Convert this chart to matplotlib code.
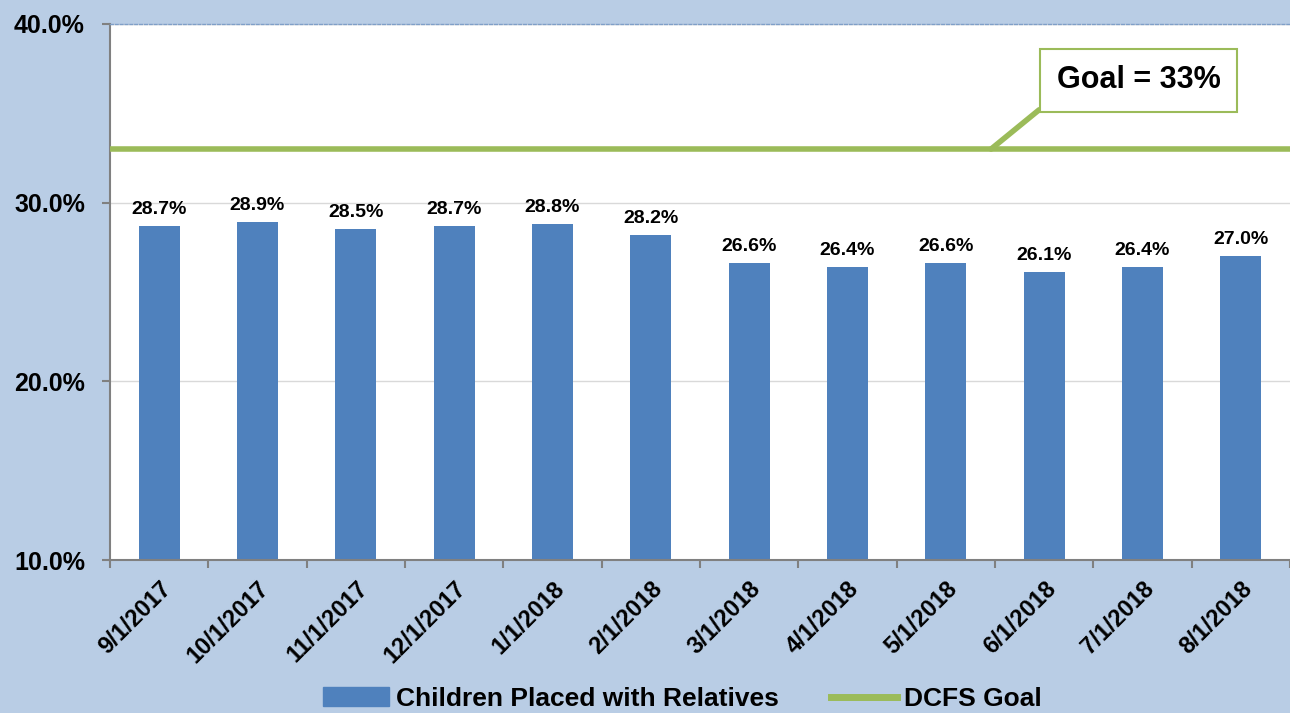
import matplotlib.pyplot as plt
from matplotlib.lines import Line2D
from matplotlib.patches import Patch

# data
dates = ["9/1/2017", "10/1/2017", "11/1/2017", "12/1/2017", "1/1/2018", "2/1/2018",
         "3/1/2018", "4/1/2018", "5/1/2018", "6/1/2018", "7/1/2018", "8/1/2018"]
placed = [28.7, 28.9, 28.5, 28.7, 28.8, 28.2, 26.6, 26.4, 26.6, 26.1, 26.4, 27.0]
goal = 33.0
y_ticks = [10, 20, 30, 40]

bg = "#B9CDE5"
blue = "#4F81BD"
green = "#9BBB59"

plt.rcParams['font.family'] = ['Liberation Sans', 'DejaVu Sans']

fig = plt.figure(figsize=(12.9, 7.13), dpi=100, facecolor=bg)
ax = fig.add_axes([110 / 1290, 1 - 560 / 713, 1 - 110 / 1290, (560 - 24) / 713])
ax.set_facecolor("white")

x = list(range(len(dates)))
ax.bar(x, placed, width=0.42, color=blue, zorder=2)
for xi, v in zip(x, placed):
    ax.text(xi, v + 0.45, f"{v:.1f}%", ha="center", va="bottom",
            fontsize=14, fontweight="bold", zorder=4)

ax.axhline(goal, color=green, lw=4, zorder=3)

ax.set_xlim(-0.5, len(dates) - 0.5)
ax.set_ylim(10, 40)
ax.set_yticks(y_ticks)
ax.set_yticklabels([f"{t:.1f}%" for t in y_ticks], fontsize=18, fontweight="bold")
ax.yaxis.grid(True, color="#D9D9D9", lw=1, zorder=0)
ax.set_xticks(x)
ax.set_xticklabels(dates, rotation=45, ha="right", rotation_mode="anchor",
                   fontsize=17, fontweight="bold")
ax.set_xticks([i - 0.5 for i in range(len(dates) + 1)], minor=True)
ax.tick_params(axis="x", which="major", length=0, pad=12)
ax.tick_params(axis="x", which="minor", length=6, color="#808080", width=1.5)
ax.tick_params(axis="y", length=6, color="#808080", width=1.5, pad=12)

for side in ["left", "bottom"]:
    ax.spines[side].set_color("#808080")
    ax.spines[side].set_linewidth(1.5)
ax.spines["right"].set_visible(False)
ax.spines["top"].set_color("#7F9FC8")
ax.spines["top"].set_linestyle((0, (2, 1.5)))
ax.spines["top"].set_linewidth(1)

# goal callout
ax.annotate("Goal = 33%", xy=(8.46, goal), xytext=(9.96, 36.84),
            fontsize=22, fontweight="bold", ha="center", va="center",
            bbox=dict(boxstyle="square,pad=0.55", fc="white", ec=green, lw=1.5),
            arrowprops=dict(arrowstyle="-", color=green, lw=4,
                            shrinkA=0, shrinkB=0, relpos=(0, 0)),
            zorder=5)

handles = [Patch(color=blue), Line2D([0], [0], color=green, lw=5)]
fig.legend(handles, ["Children Placed with Relatives", "DCFS Goal"],
           loc="center", bbox_to_anchor=(0.529, 0.02), ncol=2, frameon=False,
           prop=dict(weight="bold", size=19), borderpad=0,
           handlelength=2.5, handleheight=0.7, columnspacing=2.0, handletextpad=0.25)

fig.savefig("out.png", dpi=100, facecolor=bg)
